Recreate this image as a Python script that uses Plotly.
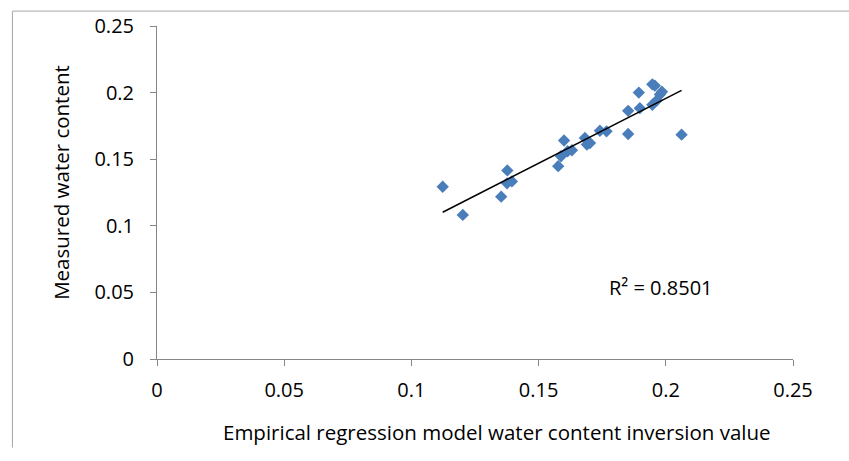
import numpy as np
import plotly.graph_objects as go

# Data
model_values = [0.1123, 0.1202, 0.1353, 0.1377, 0.1376, 0.1395,
                0.1577, 0.1588, 0.1600, 0.1614, 0.1631,
                0.1682, 0.1690, 0.1702, 0.1741, 0.1767,
                0.1852, 0.1852, 0.1894, 0.1898, 0.1947, 0.1957,
                0.1947, 0.1964, 0.1977, 0.1985, 0.2062]
measured_values = [0.1293, 0.1082, 0.1219, 0.1416, 0.1319, 0.1333,
                   0.1448, 0.1522, 0.1640, 0.1560, 0.1567,
                   0.1659, 0.1610, 0.1622, 0.1714, 0.1709,
                   0.1863, 0.1689, 0.2000, 0.1883, 0.2062, 0.2052,
                   0.1908, 0.1940, 0.1985, 0.2007, 0.1684]
x_ticks = [0, 0.05, 0.1, 0.15, 0.2, 0.25]
y_ticks = [0, 0.05, 0.1, 0.15, 0.2, 0.25]
tick_labels = ["0", "0.05", "0.1", "0.15", "0.2", "0.25"]
r2_label = "R² = 0.8501"
x_title = "Empirical regression model water content inversion value"
y_title = "Measured water content"

x = np.array(model_values)
y = np.array(measured_values)
slope, intercept = np.polyfit(x, y, 1)
fit_x = np.array([x.min(), x.max()])
fit_y = slope * fit_x + intercept

FONT = "Open Sans"
AXIS_COLOR = "#868686"

fig = go.Figure()
fig.add_trace(go.Scatter(
    x=model_values, y=measured_values, mode="markers",
    marker=dict(symbol="diamond", size=9.5, color="#4A7EBB", line=dict(width=0)),
    showlegend=False, hoverinfo="skip"))
fig.add_trace(go.Scatter(
    x=fit_x, y=fit_y, mode="lines",
    line=dict(color="black", width=1.5),
    showlegend=False, hoverinfo="skip"))

fig.add_annotation(x=0.198, y=0.0537, xref="x", yref="y", text=r2_label,
                   showarrow=False, font=dict(family=FONT, size=20, color="black"))

# axis titles (placed as in the reference)
fig.add_annotation(x=0.5346, y=-0.218, xref="paper", yref="paper", text=x_title,
                   showarrow=False, xanchor="center", yanchor="middle",
                   font=dict(family=FONT, size=20.5, color="black"))
fig.add_annotation(x=-0.152, y=0.53, xref="paper", yref="paper", text=y_title,
                   showarrow=False, textangle=-90, xanchor="center", yanchor="middle",
                   font=dict(family=FONT, size=20.5, color="black"))

# outer chart border (top and left visible)
fig.add_shape(type="line", xref="paper", yref="paper",
              x0=-0.2273, x1=1.1, y0=1.0448, y1=1.0448,
              line=dict(color="#a6a6a6", width=1))
fig.add_shape(type="line", xref="paper", yref="paper",
              x0=-0.2273, x1=-0.2273, y0=1.0448, y1=-0.2657,
              line=dict(color="#a6a6a6", width=1))

fig.update_layout(
    width=849, height=461,
    margin=dict(l=157, r=56, t=24, b=102),
    paper_bgcolor="white", plot_bgcolor="white",
    font=dict(family=FONT, size=20, color="black"),
    xaxis=dict(range=[0, 0.25], tickvals=x_ticks, ticktext=tick_labels,
               showgrid=False, zeroline=False, showline=True,
               linecolor=AXIS_COLOR, linewidth=1,
               ticks="outside", ticklen=6, tickcolor=AXIS_COLOR,
               ticklabelstandoff=7,
               tickfont=dict(family=FONT, size=20)),
    yaxis=dict(range=[0, 0.25], tickvals=y_ticks, ticktext=tick_labels,
               showgrid=False, zeroline=False, showline=True,
               linecolor=AXIS_COLOR, linewidth=1,
               ticks="outside", ticklen=6, tickcolor=AXIS_COLOR,
               ticklabelstandoff=12,
               tickfont=dict(family=FONT, size=20)),
)

fig.write_html("out.html")
